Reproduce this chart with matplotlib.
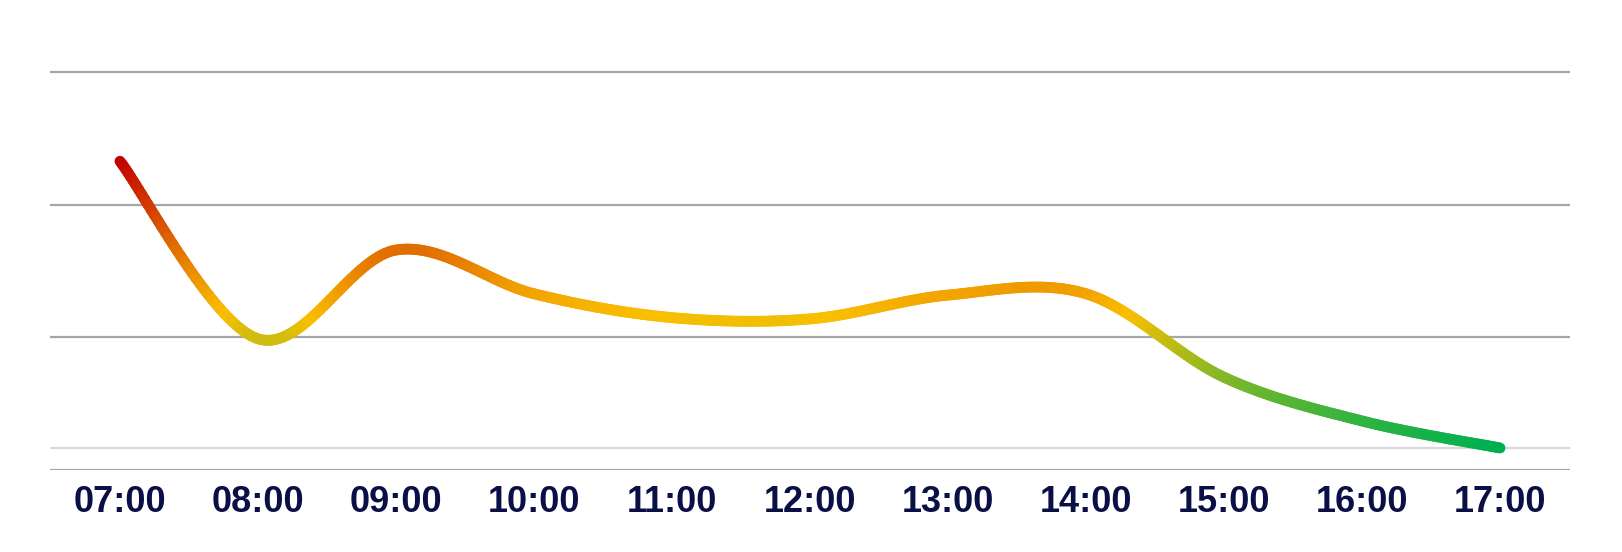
import numpy as np
import matplotlib
matplotlib.use("Agg")
from matplotlib import pyplot as plt
from matplotlib.collections import LineCollection
from matplotlib.colors import LinearSegmentedColormap

# hourly readings
hours = ["07:00", "08:00", "09:00", "10:00", "11:00", "12:00",
         "13:00", "14:00", "15:00", "16:00", "17:00"]
values = [2.33, 0.99, 1.66, 1.33, 1.15, 1.14, 1.32, 1.33, 0.70, 0.37, 0.166]
ref_level = 0.166
grid_levels = [1, 2, 3]


def smooth(xs, ys, n=40):
    # bezier smoothing through the points (like a spreadsheet smoothed line)
    xs = np.asarray(xs, float)
    ys = np.asarray(ys, float)
    px, py = [], []
    for i in range(len(xs) - 1):
        i0 = max(i - 1, 0)
        i3 = min(i + 2, len(xs) - 1)
        c1x = xs[i] + (xs[i + 1] - xs[i0]) / 6.0
        c1y = ys[i] + (ys[i + 1] - ys[i0]) / 6.0
        c2x = xs[i + 1] - (xs[i3] - xs[i]) / 6.0
        c2y = ys[i + 1] - (ys[i3] - ys[i]) / 6.0
        t = np.linspace(0, 1, n, endpoint=(i == len(xs) - 2))
        a = (1 - t) ** 3
        b = 3 * (1 - t) ** 2 * t
        c = 3 * (1 - t) * t ** 2
        d = t ** 3
        px.extend(a * xs[i] + b * c1x + c * c2x + d * xs[i + 1])
        py.extend(a * ys[i] + b * c1y + c * c2y + d * ys[i + 1])
    return np.array(px), np.array(py)


fig = plt.figure(figsize=(16.22, 5.52), dpi=100)
ax = fig.add_axes([50 / 1622, 82 / 552, 1520 / 1622, 410 / 552])

x = np.arange(len(hours))
sx, sy = smooth(x, values)

pts = np.column_stack([sx, sy]).reshape(-1, 1, 2)
segs = np.concatenate([pts[:-1], pts[1:]], axis=1)
cmap = LinearSegmentedColormap.from_list(
    "grad", [(0.0, "#00b050"), (0.46, "#fabf00"), (1.0, "#c00000")])
lc = LineCollection(segs, cmap=cmap, norm=plt.Normalize(min(values), max(values)),
                    linewidths=7.8, capstyle="round", joinstyle="round", zorder=3)
lc.set_array((sy[:-1] + sy[1:]) / 2)
ax.add_collection(lc)

for g in grid_levels:
    ax.axhline(g, color="#a6a6a6", lw=1.6, zorder=1)
ax.axhline(ref_level, color="#d9d9d9", lw=1.6, zorder=1)
ax.axhline(0, color="#a6a6a6", lw=1.6, zorder=1)

ax.set_xlim(-0.507, len(hours) - 1 + 0.507)
ax.set_ylim(0, 3.094)
ax.set_xticks(x)
ax.set_xticklabels(hours, fontfamily="Liberation Sans", fontweight="bold",
                   fontsize=26, color="#0a0f45")
ax.tick_params(axis="x", length=0, pad=11)
ax.set_yticks([])
for s in ax.spines.values():
    s.set_visible(False)

fig.savefig("out.png", dpi=100)
